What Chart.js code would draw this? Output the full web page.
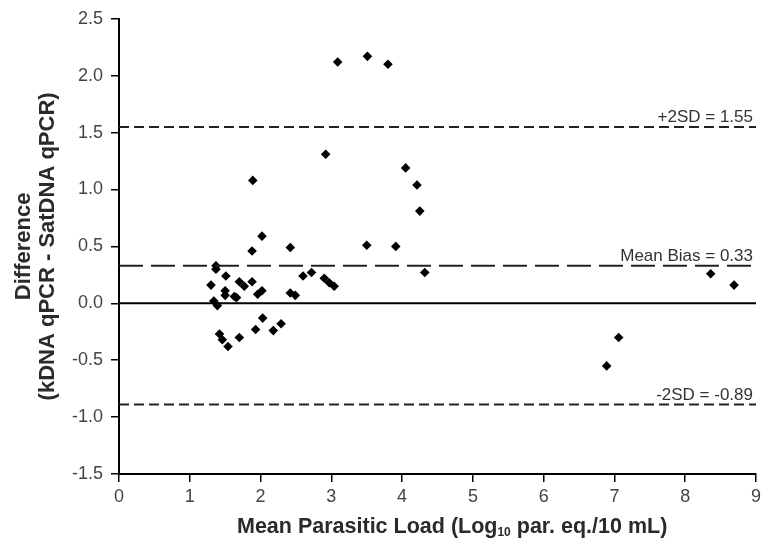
<!DOCTYPE html>
<html>
<head>
<meta charset="utf-8">
<script src="https://cdn.jsdelivr.net/npm/chart.js@4.4.0/dist/chart.umd.min.js"></script>
<style>
html,body{margin:0;padding:0;background:#fff;}
#wrap{width:765px;height:543px;position:relative;}
</style>
</head>
<body>
<div id="wrap"><canvas id="c" width="765" height="543"></canvas></div>
<script>
const meanLoad = [3.09,3.51,3.80,2.92,1.89,4.05,4.21,4.25,3.50,3.91,2.02,1.88,2.42,4.32,8.36,8.69,6.89,7.06,
  1.37,1.37,1.30,1.51,1.50,1.50,1.63,1.66,1.70,1.77,1.88,1.96,2.02,1.34,1.39,2.60,2.72,2.42,2.49,2.90,2.97,3.04,
  2.03,1.93,2.18,2.29,1.42,1.46,1.54,1.70];
const difference = [2.12,2.17,2.10,1.31,1.08,1.19,1.04,0.81,0.51,0.50,0.59,0.46,0.49,0.27,0.26,0.16,-0.55,-0.30,
  0.33,0.30,0.16,0.24,0.11,0.07,0.06,0.05,0.19,0.15,0.19,0.08,0.11,0.02,-0.02,0.24,0.27,0.09,0.07,0.22,0.18,0.15,
  -0.13,-0.23,-0.24,-0.18,-0.27,-0.32,-0.38,-0.30];
const refNames = ["+2SD","Mean Bias","-2SD"];
const refValues = [1.55,0.33,-0.89];
const xRange = [0,9];
const yTicks = [-1.5,-1.0,-0.5,0.0,0.5,1.0,1.5,2.0,2.5];

const FONT = "'Liberation Sans', Arial, sans-serif";
const points = meanLoad.map((x,i)=>({x:x,y:difference[i]}));
const hline = v => [{x:xRange[0],y:v},{x:xRange[1],y:v}];

const labelPlugin = {
  id:'labels',
  afterDatasetsDraw(chart){
    const ctx = chart.ctx, xs = chart.scales.x, ys = chart.scales.y;
    ctx.save();
    ctx.fillStyle = '#333';
    ctx.font = '17px ' + FONT;
    ctx.textAlign = 'right';
    ctx.textBaseline = 'alphabetic';
    refNames.forEach((n,i)=>{
      const txt = n + ' = ' + refValues[i].toFixed(2);
      ctx.fillText(txt, xs.getPixelForValue(xRange[1]) - 3, ys.getPixelForValue(refValues[i]) - 5);
    });
    ctx.restore();
  },
  afterDraw(chart){
    const ctx = chart.ctx, ca = chart.chartArea;
    ctx.save();
    ctx.fillStyle = '#2a2a2a';
    // x title with subscript
    const parts = [['Mean Parasitic Load (Log',21.5],['10',12],[' par. eq./10 mL)',21.5]];
    let total = 0;
    parts.forEach(p=>{ctx.font='bold '+p[1]+'px '+FONT; total += ctx.measureText(p[0]).width;});
    let x = 237;
    const yb = 533;
    ctx.textAlign='left'; ctx.textBaseline='alphabetic';
    parts.forEach((p,i)=>{
      ctx.font='bold '+p[1]+'px '+FONT;
      ctx.fillText(p[0], x, i===1 ? yb+3 : yb);
      x += ctx.measureText(p[0]).width;
    });
    // y title
    ctx.translate(0,(ca.top+ca.bottom)/2);
    ctx.rotate(-Math.PI/2);
    ctx.font='bold 22px '+FONT;
    ctx.textAlign='center'; ctx.textBaseline='middle';
    ctx.fillText('Difference', 0, 24);
    ctx.fillText('(kDNA qPCR - SatDNA qPCR)', 0, 48);
    ctx.restore();
  }
};

new Chart(document.getElementById('c'), {
  type:'scatter',
  data:{
    datasets:[
      {type:'line',data:hline(0),borderColor:'#000',borderWidth:2,pointRadius:0,fill:false},
      {type:'line',data:hline(refValues[0]),borderColor:'#222',borderWidth:2,borderDash:[10,5],pointRadius:0,fill:false},
      {type:'line',data:hline(refValues[1]),borderColor:'#222',borderWidth:2,borderDash:[24,8],pointRadius:0,fill:false},
      {type:'line',data:hline(refValues[2]),borderColor:'#222',borderWidth:2,borderDash:[10,5],pointRadius:0,fill:false},
      {data:points,pointStyle:'rectRot',pointRadius:4.8,backgroundColor:'#000',borderColor:'#000',borderWidth:0}
    ]
  },
  options:{
    responsive:false,animation:false,
    layout:{padding:{left:0,right:8,top:15,bottom:0}},
    plugins:{legend:{display:false},tooltip:{enabled:false}},
    scales:{
      x:{type:'linear',min:xRange[0],max:xRange[1],
        afterFit(s){s.height=69;},
        border:{display:true,color:'#000',width:2},
        grid:{drawOnChartArea:false,drawTicks:true,tickLength:8,color:'#000',lineWidth:1.5},
        ticks:{stepSize:1,color:'#444',font:{size:18,family:FONT},padding:4}},
      y:{type:'linear',min:-1.5,max:2.5,
        afterFit(s){s.width=119;},
        afterBuildTicks(s){s.ticks=yTicks.map(v=>({value:v}));},
        border:{display:true,color:'#000',width:2},
        grid:{drawOnChartArea:false,drawTicks:true,tickLength:8,color:'#000',lineWidth:1.5},
        ticks:{color:'#444',font:{size:18,family:FONT},padding:8,callback:v=>v.toFixed(1)}}
    }
  },
  plugins:[labelPlugin]
});
</script>
</body>
</html>
